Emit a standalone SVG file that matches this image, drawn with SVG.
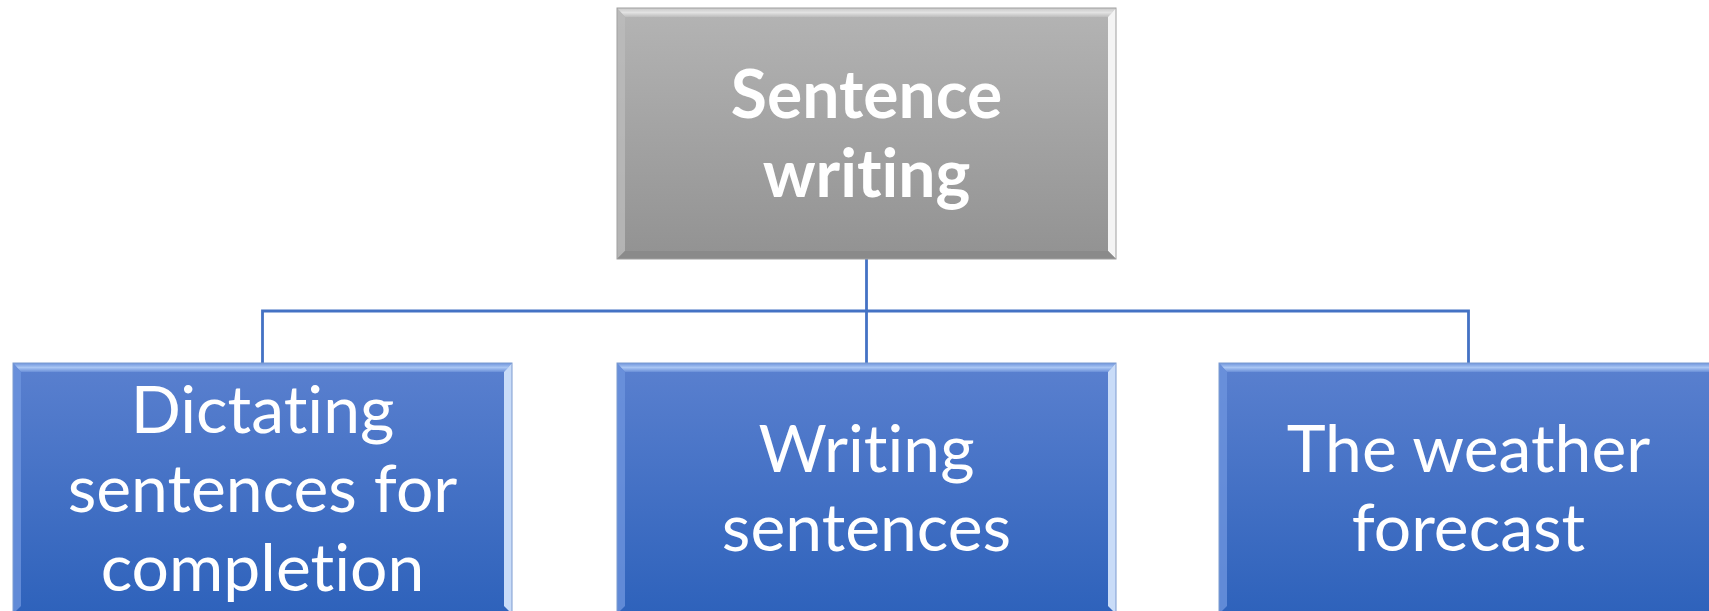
<svg xmlns="http://www.w3.org/2000/svg" width="1709" height="611" viewBox="0 0 1709 611">
<defs>
<linearGradient id="gGray" x1="0" y1="0" x2="0" y2="1">
<stop offset="0" stop-color="#b4b4b4"/>
<stop offset="1" stop-color="#929292"/>
</linearGradient>
<linearGradient id="gBlue" x1="0" y1="0" x2="0" y2="1">
<stop offset="0" stop-color="#5a80cf"/>
<stop offset="1" stop-color="#2e62bb"/>
</linearGradient>
<linearGradient id="gBlueTop" x1="0" y1="0" x2="0" y2="1">
<stop offset="0" stop-color="#6f94dc"/>
<stop offset="0.5" stop-color="#a9c6f4"/>
<stop offset="1" stop-color="#6a8fd8"/>
</linearGradient>
<linearGradient id="gGrayTop" x1="0" y1="0" x2="0" y2="1">
<stop offset="0" stop-color="#c8c8c8"/>
<stop offset="0.5" stop-color="#e2e2e2"/>
<stop offset="1" stop-color="#bdbdbd"/>
</linearGradient>
</defs>
<style>
.conn{fill:none;stroke:#4472c4;stroke-width:2.8}
.lbl{font-family:Lato,"Liberation Sans",sans-serif;font-size:66px;fill:#ffffff;text-anchor:middle;font-variant-ligatures:none;font-feature-settings:"liga" 0}
.bold{font-weight:bold}
.bord{fill:none;stroke-width:1}
</style>
<rect width="1709" height="611" fill="#ffffff"/>
<g id="connectors">
<path class="conn" d="M866.5 259 V311"/>
<path class="conn" d="M262.5 363 V311 H1468.5 V363"/>
<path class="conn" d="M866.5 311 V363"/>
</g>
<g id="node-top">
<rect x="617" y="8" width="499" height="251" fill="url(#gGray)"/>
<polygon points="617,8 1116,8 1108,17 625,17" fill="url(#gGrayTop)"/>
<polygon points="617,8 625,17 625,251 617,259" fill="#bcbcbc" opacity="0.8"/>
<polygon points="1116,8 1116,259 1108,251 1108,17" fill="#f4f4f4"/>
<polygon points="617,259 625,251 1108,251 1116,259" fill="#8a8a8a"/>
<rect x="617" y="8" width="499" height="251" class="bord" stroke="#a0a0a0"/>
<text class="lbl bold" x="866.5" y="118">Sentence</text>
<text class="lbl bold" x="866.5" y="197">writing</text>
</g>
<g id="node-left">
<rect x="13" y="363" width="499" height="251" fill="url(#gBlue)"/>
<polygon points="13,363 512,363 504,372 21,372" fill="url(#gBlueTop)"/>
<polygon points="13,363 21,372 21,606 13,614" fill="#6d93dd" opacity="0.8"/>
<polygon points="512,363 512,614 504,606 504,372" fill="#c9dcf8"/>
<rect x="13" y="363" width="499" height="251" class="bord" stroke="#7d9bd0"/>
<text class="lbl" x="262.5" y="433">Dictating</text>
<text class="lbl" x="262.5" y="512">sentences for</text>
<text class="lbl" x="262.5" y="591">completion</text>
</g>
<g id="node-middle">
<rect x="617" y="363" width="499" height="251" fill="url(#gBlue)"/>
<polygon points="617,363 1116,363 1108,372 625,372" fill="url(#gBlueTop)"/>
<polygon points="617,363 625,372 625,606 617,614" fill="#6d93dd" opacity="0.8"/>
<polygon points="1116,363 1116,614 1108,606 1108,372" fill="#c9dcf8"/>
<rect x="617" y="363" width="499" height="251" class="bord" stroke="#7d9bd0"/>
<text class="lbl" x="866.5" y="472">Writing</text>
<text class="lbl" x="866.5" y="551">sentences</text>
</g>
<g id="node-right">
<rect x="1219" y="363" width="499" height="251" fill="url(#gBlue)"/>
<polygon points="1219,363 1718,363 1710,372 1227,372" fill="url(#gBlueTop)"/>
<polygon points="1219,363 1227,372 1227,606 1219,614" fill="#6d93dd" opacity="0.8"/>
<rect x="1219" y="363" width="499" height="251" class="bord" stroke="#7d9bd0"/>
<text class="lbl" x="1468.5" y="472">The weather</text>
<text class="lbl" x="1468.5" y="551">forecast</text>
</g>
</svg>
